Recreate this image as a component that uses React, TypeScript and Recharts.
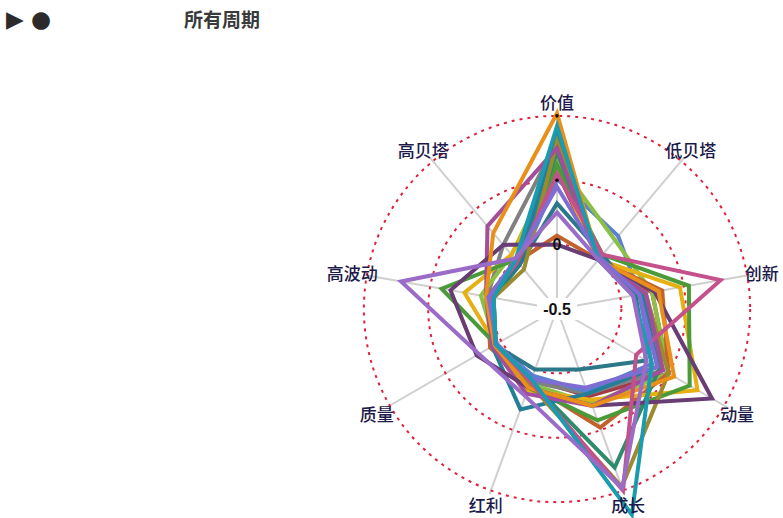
import React from "react";
import {
  RadarChart,
  Radar,
  PolarGrid,
  PolarAngleAxis,
  PolarRadiusAxis,
} from "recharts";

// factor axes, clockwise from the top
const AXES = ["价值", "低贝塔", "创新", "动量", "成长", "红利", "质量", "高波动", "高贝塔"];
const RADIUS_TICKS = [-0.5, 0, 0.5, 1];

// exposure of each portfolio on the axes above
const darkRed = [0.57, 0.0, 0.25, 0.5, 0.22, 0.08, 0.05, 0.02, 0.0];
const gray = [0.8, 0.02, 0.2, 0.45, 0.2, 0.1, 0.05, 0.05, 0.15];
const blue = [0.51, 0.24, 0.15, 0.35, 0.18, 0.05, 0.05, 0.0, -0.05];
const lightGreen = [0.65, 0.2, 0.25, 0.5, 0.28, 0.12, 0.05, 0.1, 0.05];
const brownOrange = [0.07, 0.0, 0.33, 0.5, 0.48, 0.12, 0.1, 0.05, -0.02];
const yellow = [0.6, 0.0, 0.47, 0.76, 0.25, 0.17, 0.05, 0.23, 0.05];
const green = [0.62, 0.05, 0.54, 0.69, 0.42, 0.15, 0.05, 0.41, 0.0];
const seaGreen = [0.72, 0.0, 0.15, 0.42, 0.81, 0.1, 0.05, 0.0, -0.05];
const darkTeal = [0.32, 0.05, 0.12, 0.3, 0.0, 0.0, 0.06, 0.03, -0.05];
const steelTeal = [0.85, 0.0, 0.18, 0.4, 0.2, 0.33, 0.08, 0.02, -0.03];
const olive = [0.8, 0.0, 0.2, 0.5, 0.97, 0.12, 0.05, 0.0, -0.1];
const plum = [0.75, 0.0, 0.2, 0.45, 0.3, 0.2, 0.08, 0.06, 0.34];
const darkPurple = [0.0, 0.0, 0.27, 0.89, 0.3, 0.15, 0.22, 0.34, 0.15];
const orange = [1.02, 0.0, 0.3, 0.55, 0.3, 0.15, 0.06, 0.06, 0.27];
const pink = [0.55, 0.05, 0.79, 0.21, 1.0, 0.1, 0.05, 0.02, -0.02];
const violet = [0.45, 0.02, 0.15, 0.4, 0.15, 0.08, 0.04, 0.04, 0.0];
const teal = [0.92, 0.0, 0.1, 0.35, 1.2, 0.08, 0.05, 0.0, 0.0];
const lavender = [0.25, 0.0, 0.1, 0.3, 0.98, 0.22, 0.2, 0.73, 0.01];

const SERIES = [
  { key: "darkRed", color: "#A23B48", values: darkRed },
  { key: "gray", color: "#808080", values: gray },
  { key: "blue", color: "#5B7FD1", values: blue },
  { key: "lightGreen", color: "#8CBF45", values: lightGreen },
  { key: "brownOrange", color: "#C4622D", values: brownOrange },
  { key: "yellow", color: "#E6B012", values: yellow },
  { key: "green", color: "#4A9A3A", values: green },
  { key: "seaGreen", color: "#2E8C6A", values: seaGreen },
  { key: "darkTeal", color: "#2B7888", values: darkTeal },
  { key: "steelTeal", color: "#257E98", values: steelTeal },
  { key: "olive", color: "#9B8A2E", values: olive },
  { key: "plum", color: "#A24E9B", values: plum },
  { key: "darkPurple", color: "#6A3C74", values: darkPurple },
  { key: "orange", color: "#E8901A", values: orange },
  { key: "pink", color: "#C4508C", values: pink },
  { key: "violet", color: "#7E6ED3", values: violet },
  { key: "teal", color: "#1A9BB0", values: teal },
  { key: "lavender", color: "#9A6CC8", values: lavender },
];

const data = AXES.map((axis, i) => {
  const row: Record<string, string | number> = { axis };
  SERIES.forEach((s) => {
    row[s.key] = s.values[i];
  });
  return row;
});

const CX = 557;
const CY = 309;
const OUTER = 197;
const DOMAIN_MAX = 1.03;
const UNIT = OUTER / (DOMAIN_MAX + 0.5);
const ringRadii = [0, 0.5, 1].map((v) => (v + 0.5) * UNIT);
const LABEL_R = 208;

const AngleTick = (props: any) => {
  const a = (props.index * 40 * Math.PI) / 180;
  const x = CX + LABEL_R * Math.sin(a);
  const y = CY - LABEL_R * Math.cos(a);
  return (
    <text
      x={x}
      y={y}
      textAnchor="middle"
      dominantBaseline="central"
      fontSize={17}
      fontWeight={500}
      fontFamily="'Noto Sans CJK SC', sans-serif"
      fill="#1C1A4A"
    >
      {props.payload.value}
    </text>
  );
};

const RadiusTick = (props: any) => {
  const { x, y, payload } = props;
  const v = payload.value;
  if (v === 0.5 || v === 1) {
    return <circle cx={x} cy={y} r={1.8} fill="#111" />;
  }
  const label = v === -0.5 ? "-0.5" : "0";
  return (
    <g>
      {v === -0.5 && <rect x={x - 20} y={y - 11} width={40} height={22} fill="#fff" />}
      <text
        x={x}
        y={y}
        textAnchor="middle"
        dominantBaseline="central"
        fontSize={16}
        fontWeight="bold"
        fontFamily="'Liberation Sans', Arial, sans-serif"
        fill="#111"
      >
        {label}
      </text>
    </g>
  );
};

export default function App() {
  return (
    <div
      style={{
        position: "absolute",
        left: 0,
        top: 0,
        width: 783,
        height: 518,
        background: "#fff",
        overflow: "hidden",
      }}
    >
      <div
        style={{
          position: "absolute",
          left: 6,
          top: 4,
          fontSize: 23,
          lineHeight: "30px",
          color: "#2b2b2b",
          fontFamily: "'DejaVu Sans', sans-serif",
        }}
      >
        ▶ ●
      </div>
      <div
        style={{
          position: "absolute",
          left: 184,
          top: 6,
          fontSize: 19,
          lineHeight: "26px",
          fontWeight: "bold",
          color: "#3a3a3a",
          fontFamily: "'Noto Sans CJK SC', sans-serif",
        }}
      >
        所有周期
      </div>
      <RadarChart
        width={783}
        height={518}
        data={data}
        cx={CX}
        cy={CY}
        outerRadius={OUTER}
        margin={{ top: 0, right: 0, bottom: 0, left: 0 }}
        style={{ position: "absolute", left: 0, top: 0 }}
      >
        <PolarGrid gridType="circle" polarRadius={[]} stroke="#CFCFCF" strokeWidth={2} />
        <PolarGrid
          gridType="circle"
          radialLines={false}
          polarRadius={ringRadii}
          stroke="#E0203A"
          strokeWidth={2}
          strokeDasharray="3 5"
        />
        <PolarAngleAxis dataKey="axis" tick={<AngleTick />} axisLine={false} tickLine={false} />
        {SERIES.map((s) => (
          <Radar
            key={s.key}
            dataKey={s.key}
            stroke={s.color}
            strokeWidth={4}
            fill="none"
            fillOpacity={0}
            dot={false}
            isAnimationActive={false}
          />
        ))}
        <PolarRadiusAxis
          angle={90}
          domain={[-0.5, DOMAIN_MAX]}
          ticks={RADIUS_TICKS}
          allowDataOverflow
          axisLine={false}
          tick={<RadiusTick />}
        />
      </RadarChart>
    </div>
  );
}
